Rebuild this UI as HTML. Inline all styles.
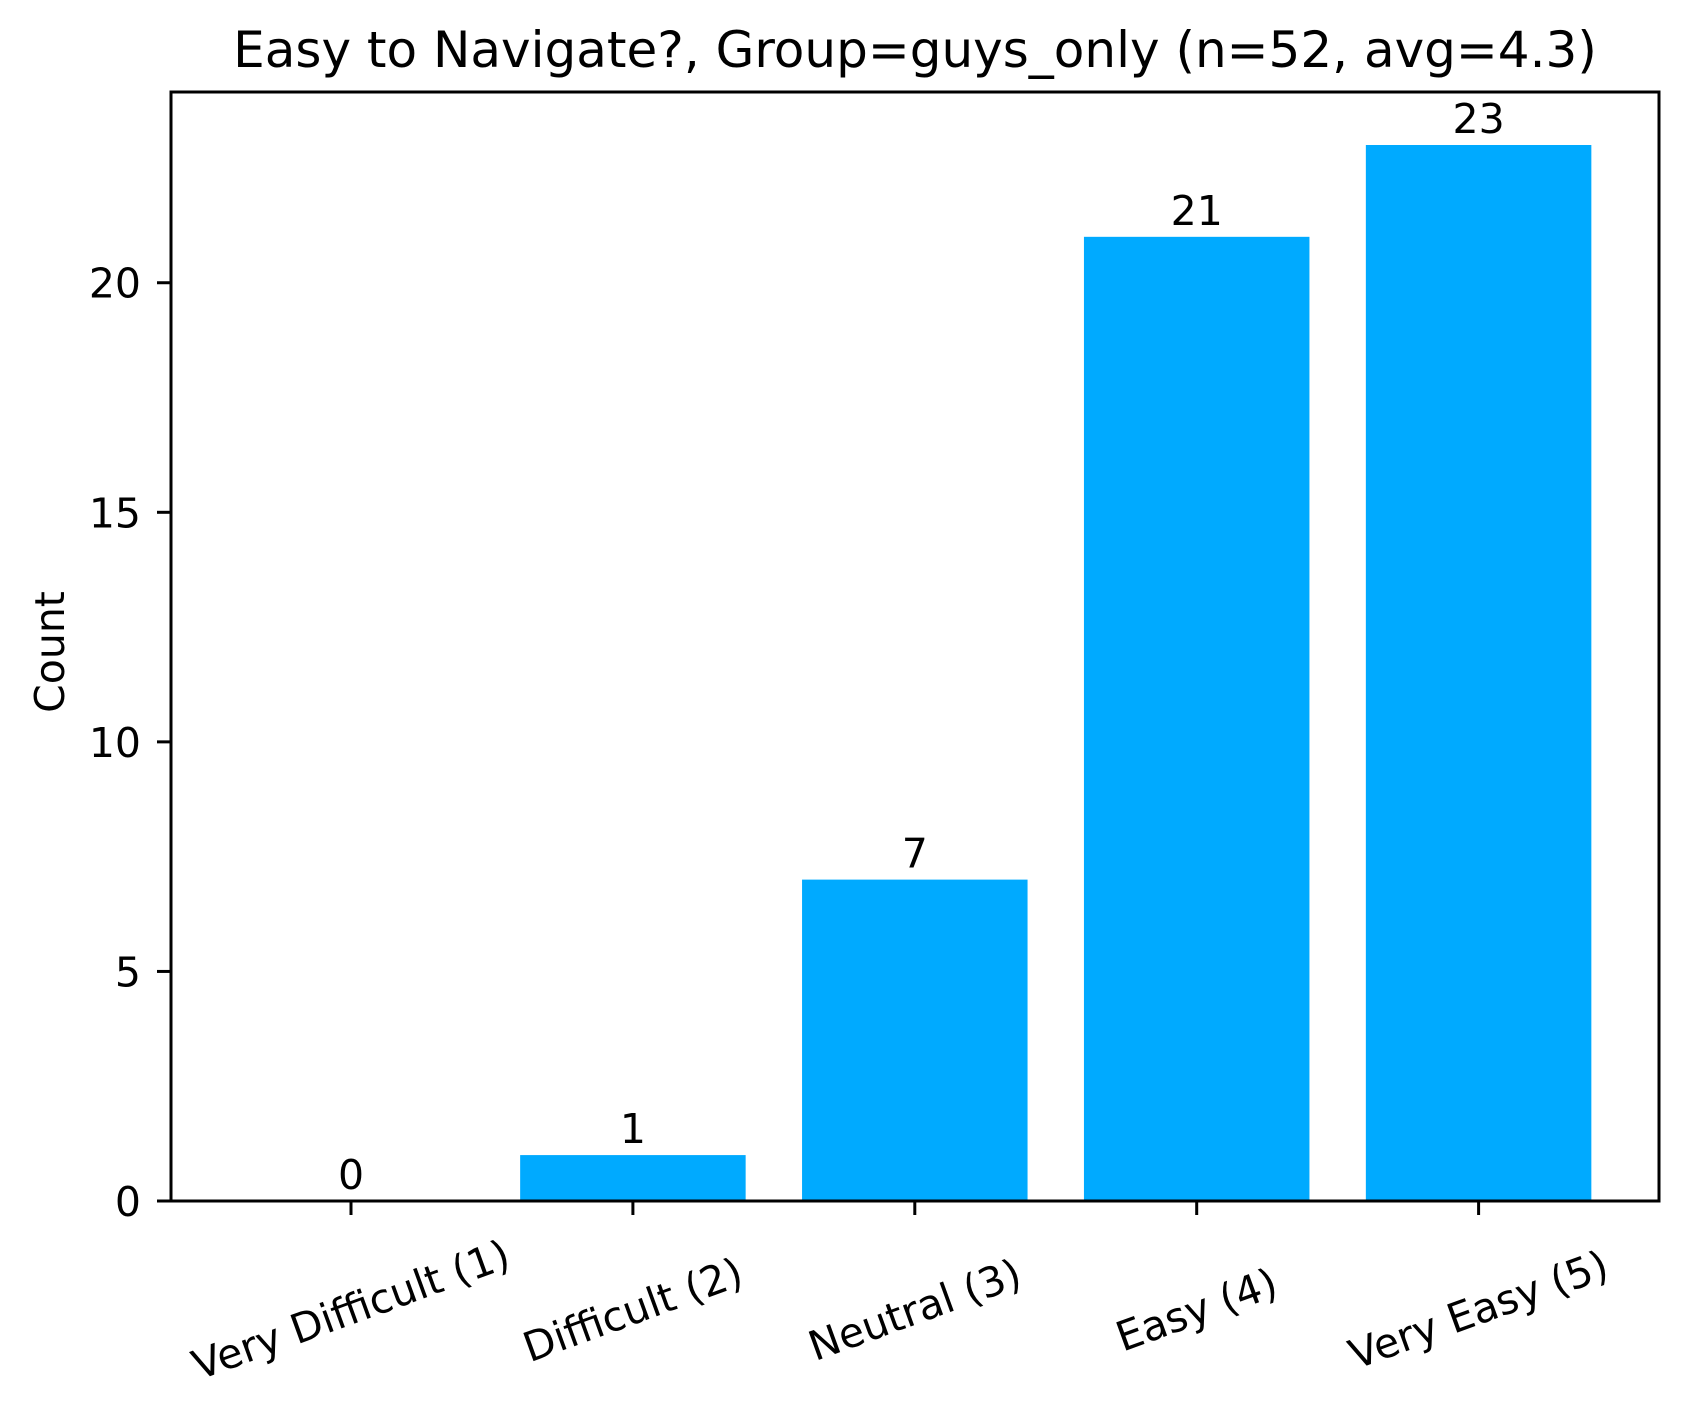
<!DOCTYPE html>
<html><head><meta charset="utf-8"><style>
body{margin:0;background:#fff}
svg{display:block;font-family:"DejaVu Sans","Liberation Sans",sans-serif}
</style></head><body>
<svg id="chart" width="1688" height="1416">
<text x="915" y="67" font-size="50" text-anchor="middle">Easy to Navigate?, Group=guys_only (n=52, avg=4.3)</text>
<text transform="translate(64,652) rotate(-90)" font-size="41" text-anchor="middle">Count</text>
<g id="bars"></g>
<g id="yticks"></g>
<g id="xticks"></g>
<rect x="171" y="92" width="1488" height="1109" fill="none" stroke="#000" stroke-width="3"/>
</svg>
<script>
const categories = ["Very Difficult (1)","Difficult (2)","Neutral (3)","Easy (4)","Very Easy (5)"];
const counts = [0,1,7,21,23];
const yTickValues = [0,5,10,15,20];
const NS="http://www.w3.org/2000/svg";
const x0=351, step=281.9, bw=225.5;
const yBase=1201, yPer=(1201-145)/23;
function xScale(i){return x0+i*step;}
function yScale(v){return yBase-v*yPer;}
function mk(tag,attrs,parent){const e=document.createElementNS(NS,tag);for(const k in attrs)e.setAttribute(k,attrs[k]);parent.appendChild(e);return e;}
const bars=document.getElementById('bars'),yt=document.getElementById('yticks'),xt=document.getElementById('xticks');
counts.forEach((v,i)=>{
  const cx=xScale(i);
  const r=mk('rect',{x:cx-bw/2,y:yScale(v),width:bw,height:yBase-yScale(v),fill:'#00aaff'},bars);
  
  
  const t=mk('text',{x:cx,y:yScale(v)-12,'font-size':41,'text-anchor':'middle'},bars);
  t.textContent=v;
  
  
  const tk=mk('line',{x1:cx,x2:cx,y1:yBase,y2:yBase+14,stroke:'#000','stroke-width':3},xt);
  
  
  const lb=mk('text',{x:0,y:0,'font-size':41,'text-anchor':'middle','dominant-baseline':'central',transform:`translate(${cx},1310) rotate(-20)`},xt);
  lb.textContent=categories[i];
  
  
});
yTickValues.forEach(v=>{
  const y=yScale(v);
  const tk=mk('line',{x1:157,x2:171,y1:y,y2:y,stroke:'#000','stroke-width':3},yt);
  
  
  const lb=mk('text',{x:141,y:y+15,'font-size':41,'text-anchor':'end'},yt);
  lb.textContent=v;
  
  
});
</script>
</body></html>
